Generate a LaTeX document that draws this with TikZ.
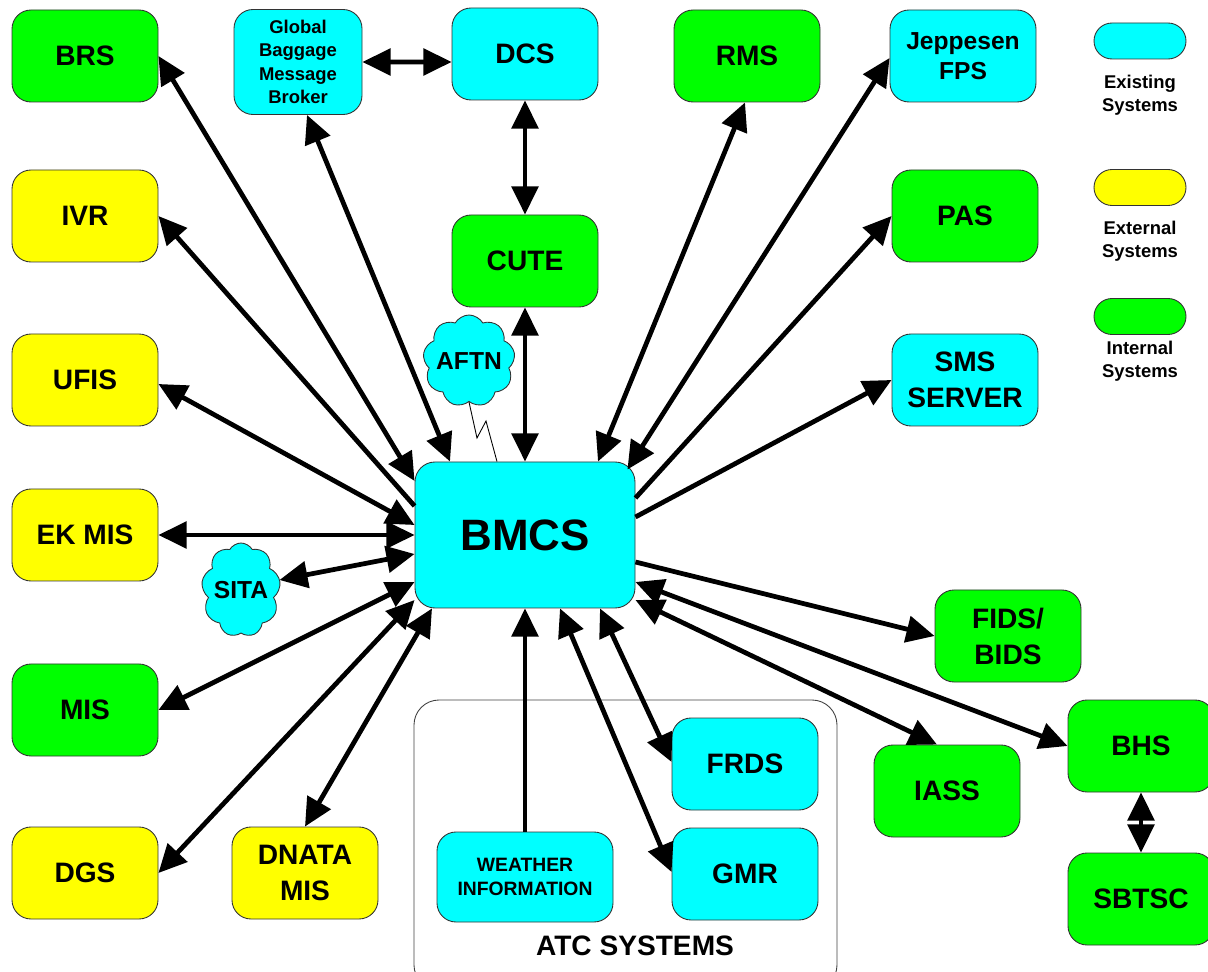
\documentclass[tikz,border=0pt]{standalone}
\usepackage{fontspec}
\setmainfont{Liberation Sans}
\usetikzlibrary{arrows.meta}
\usetikzlibrary{shapes.symbols}

\definecolor{existing}{HTML}{00FFFF}
\definecolor{external}{HTML}{FFFF00}
\definecolor{internal}{HTML}{00FF00}

\begin{document}
\begin{tikzpicture}[
                every node/.style = {align = center},
                sys/.style = {draw = black!80, line width = 0.5pt, rounded corners = 0.38cm,
                              minimum width = 2.92cm, minimum height = 1.84cm, inner sep = 1pt,
                              font = \fontsize{16}{20.5}\selectfont\bfseries},
                exist/.style = {sys, fill = existing},
                extern/.style = {sys, fill = external},
                intern/.style = {sys, fill = internal},
                small/.style = {font = \fontsize{10.5}{13.4}\selectfont\bfseries},
                pill/.style = {draw = black!80, line width = 0.5pt, rounded corners = 0.36cm,
                               minimum width = 1.84cm, minimum height = 0.72cm},
                legend/.style = {font = \fontsize{10.5}{13}\selectfont\bfseries},
                bubble/.style = {cloud, cloud puffs = 9, cloud puff arc = 120,
                                 cloud ignores aspect, draw = black!80, fill = existing,
                                 line width = 0.5pt, inner sep = -2pt,
                                 font = \fontsize{14}{16}\selectfont\bfseries},
                link/.style = {line width = 2.7pt,
                               {Triangle[length=16pt,width=15pt]}-{Triangle[length=16pt,width=15pt]}},
                tohead/.style = {line width = 2.7pt, -{Triangle[length=16pt,width=15pt]}}
                ]
              \useasboundingbox (0,0) rectangle (24.16,-19.44);

              % ATC frame
              \node[draw = black!75, line width = 0.5pt, rounded corners = 0.5cm,
                    minimum width = 8.46cm, minimum height = 5.8cm] (ATC) at (12.51,-16.90) {};
              \node[font = \fontsize{16}{20}\selectfont\bfseries] (ATCname) at (12.70,-18.92) {ATC SYSTEMS};

              % Left column
              \node[intern] (BRS)   at (1.70,-1.12)  {BRS};
              \node[extern] (IVR)   at (1.70,-4.32)  {IVR};
              \node[extern] (UFIS)  at (1.70,-7.60)  {UFIS};
              \node[extern] (EKMIS) at (1.70,-10.70) {EK MIS};
              \node[intern] (MIS)   at (1.70,-14.20) {MIS};
              \node[extern] (DGS)   at (1.70,-17.46) {DGS};
              \node[extern] (DNATA) at (6.10,-17.46) {DNATA\\MIS};

              % Top row
              \node[exist, small, minimum width = 2.56cm, minimum height = 2.10cm]
                    (GBMB) at (5.96,-1.24) {Global\\Baggage\\Message\\Broker};
              \node[exist]  (DCS)  at (10.50,-1.08) {DCS};
              \node[intern] (CUTE) at (10.50,-5.22) {CUTE};
              \node[intern] (RMS)  at (14.94,-1.12) {RMS};
              \node[exist, font = \fontsize{14}{17}\selectfont\bfseries]
                    (JEP) at (19.26,-1.12) {Jeppesen\\FPS};

              % Right side
              \node[intern] (PAS)   at (19.30,-4.32)  {PAS};
              \node[exist]  (SMS)   at (19.30,-7.60)  {SMS\\SERVER};
              \node[intern] (FIDS)  at (20.16,-12.72) {FIDS/\\BIDS};
              \node[intern] (IASS)  at (18.94,-15.82) {IASS};
              \node[intern] (BHS)   at (22.82,-14.92) {BHS};
              \node[intern] (SBTSC) at (22.82,-17.98) {SBTSC};

              % ATC systems
              \node[exist] (FRDS) at (14.90,-15.28) {FRDS};
              \node[exist] (GMR)  at (14.90,-17.48) {GMR};
              \node[exist, font = \fontsize{11}{13.6}\selectfont\bfseries,
                    minimum width = 3.52cm, minimum height = 1.80cm]
                    (WX) at (10.50,-17.54) {WEATHER\\INFORMATION};

              % Centre
              \node[exist, minimum width = 4.40cm, minimum height = 2.92cm, rounded corners = 0.4cm,
                    font = \fontsize{25}{30}\selectfont\bfseries] (BMCS) at (10.50,-10.70) {BMCS};

              % Clouds
              \node[bubble, minimum width = 1.84cm, minimum height = 1.84cm] (AFTN) at (9.38,-7.22) {AFTN};
              \node[bubble, minimum width = 1.58cm, minimum height = 1.88cm] (SITA) at (4.82,-11.80) {SITA};
              \draw[black, line width = 0.5pt] (AFTN.south) -- ++(0.16,-0.72) -- ++(0.18,0.34)
                    -- ([xshift=-0.56cm]BMCS.north);

              % Legend
              \node[pill, fill = existing] (keyA) at (22.80,-0.82) {};
              \node[legend] (keyAtext) at (22.80,-1.90) {Existing\\Systems};
              \node[pill, fill = external] (keyB) at (22.80,-3.75) {};
              \node[legend] (keyBtext) at (22.80,-4.82) {External\\Systems};
              \node[pill, fill = internal] (keyC) at (22.80,-6.33) {};
              \node[legend] (keyCtext) at (22.80,-7.22) {Internal\\Systems};

              % Links into BMCS
              \draw[link]   (BRS.east) -- ([yshift=1.08cm]BMCS.west);
              \draw[tohead] ([yshift=0.58cm]BMCS.west) -- (IVR.east);
              \draw[link]   ([yshift=-0.08cm]UFIS.east) -- ([yshift=0.20cm]BMCS.west);
              \draw[link]   (EKMIS.east) -- (BMCS.west);
              \draw[link]   ([yshift=0.20cm]SITA.east) -- ([yshift=-0.38cm]BMCS.west);
              \draw[link]   (MIS.east) -- ([yshift=-0.94cm]BMCS.west);
              \draw[link]   (DGS.east) -- ([yshift=-1.30cm]BMCS.west);
              \draw[link]   (DNATA.north) -- ([xshift=-1.86cm]BMCS.south);
              \draw[link]   ([xshift=0.18cm]GBMB.south) -- ([xshift=-1.50cm]BMCS.north);
              \draw[link]   (GBMB.east) -- ([yshift=-0.16cm]DCS.west);
              \draw[link]   (DCS.south) -- (CUTE.north);
              \draw[link]   (CUTE.south) -- (BMCS.north);
              \draw[link]   ([xshift=-0.04cm]RMS.south) -- ([xshift=1.46cm]BMCS.north);
              \draw[link]   ([yshift=-0.04cm]JEP.west) -- ([xshift=-0.16cm,yshift=-0.16cm]BMCS.north east);
              \draw[tohead] ([yshift=0.74cm]BMCS.east) -- (PAS.west);
              \draw[tohead] ([yshift=0.36cm]BMCS.east) -- (SMS.west);
              \draw[tohead] ([yshift=-0.54cm]BMCS.east) -- (FIDS.west);
              \draw[link]   ([yshift=-0.94cm]BMCS.east) -- (BHS.west);
              \draw[link]   ([yshift=-1.30cm]BMCS.east) -- ([xshift=-0.20cm]IASS.north);
              \draw[link]   ([xshift=1.50cm]BMCS.south) -- ([yshift=0.04cm]FRDS.west);
              \draw[link]   ([xshift=0.70cm]BMCS.south) -- ([yshift=0.04cm]GMR.west);
              \draw[tohead] (WX.north) -- (BMCS.south);
              \draw[link]   (BHS.south) -- (SBTSC.north);
            \end{tikzpicture}
\end{document}
